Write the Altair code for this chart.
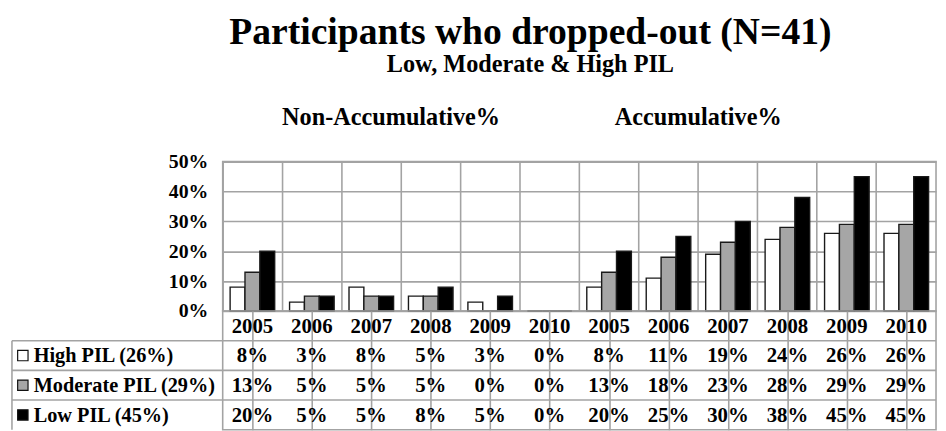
import altair as alt
import pandas as pd

years = ["2005", "2006", "2007", "2008", "2009", "2010"]
series_keys = ["High", "Moderate", "Low"]
series_labels = ["High PIL (26%)", "Moderate PIL (29%)", "Low PIL (45%)"]
fill_colors = ["#ffffff", "#a6a6a6", "#000000"]

high_non = [8, 3, 8, 5, 3, 0]
mod_non = [13, 5, 5, 5, 0, 0]
low_non = [20, 5, 5, 8, 5, 0]
high_acc = [8, 11, 19, 24, 26, 26]
mod_acc = [13, 18, 23, 28, 29, 29]
low_acc = [20, 25, 30, 38, 45, 45]

y_ticks = [0, 0.1, 0.2, 0.3, 0.4, 0.5]
table_rows = ["year", "High", "Moderate", "Low"]

FONT = "Liberation Serif"
GRID = "#a3a3a3"

cats = ["N" + y for y in years] + ["A" + y for y in years]
vals = {
    "High": high_non + high_acc,
    "Moderate": mod_non + mod_acc,
    "Low": low_non + low_acc,
}

bar_rows = []
for s in series_keys:
    for c, v in zip(cats, vals[s]):
        bar_rows.append({"cat": c, "series": s, "value": v / 100.0, "label": f"{v}%"})
bars_df = pd.DataFrame(bar_rows)

table_df = pd.DataFrame(
    [{"cat": c, "row": "year", "text": c[1:]} for c in cats]
    + [{"cat": r["cat"], "row": r["series"], "text": r["label"]} for r in bar_rows]
)
labels_df = pd.DataFrame({"row": series_keys, "label": series_labels, "series": series_keys})

x_scale = alt.Scale(domain=cats, paddingInner=0, paddingOuter=0)
color_scale = alt.Scale(domain=series_keys, range=fill_colors)
row_scale = alt.Scale(domain=table_rows, paddingInner=0, paddingOuter=0)

W = 721
x_axis = alt.Axis(labels=False, ticks=False, domain=False, grid=True, gridColor=GRID,
                  gridWidth=1.6, bandPosition=0, title=None)

bars = alt.Chart(bars_df).mark_bar(stroke="#1a1a1a", strokeWidth=1.4).encode(
    x=alt.X("cat:N", sort=cats, scale=x_scale, axis=x_axis),
    xOffset=alt.XOffset("series:N", sort=series_keys,
                        scale=alt.Scale(domain=series_keys, paddingOuter=0.5, paddingInner=0)),
    y=alt.Y("value:Q", scale=alt.Scale(domain=[0, 0.5]),
            axis=alt.Axis(values=y_ticks, format=".0%", labelFont=FONT, labelFontSize=20,
                          labelFontWeight="bold", labelColor="black", ticks=False, domain=False,
                          grid=True, gridColor=GRID, gridWidth=1.6, labelPadding=15, title=None)),
    fill=alt.Fill("series:N", scale=color_scale, legend=None),
)

sec_style = dict(font=FONT, fontSize=24.5, fontWeight="bold", color="black", baseline="alphabetic")
sec1 = alt.Chart(pd.DataFrame({"cat": ["N2007"], "t": ["Non-Accumulative%"]})).mark_text(
    dx=20, **sec_style).encode(x=alt.X("cat:N", sort=cats, scale=x_scale), y=alt.value(-37), text="t:N")
sec2 = alt.Chart(pd.DataFrame({"cat": ["A2006"], "t": ["Accumulative%"]})).mark_text(
    dx=30, **sec_style).encode(x=alt.X("cat:N", sort=cats, scale=x_scale), y=alt.value(-37), text="t:N")

top = alt.layer(bars, sec1, sec2).properties(width=W, height=151)

tbl_x = alt.X("cat:N", sort=cats, scale=x_scale, axis=x_axis)
tbl_y = alt.Y("row:N", sort=table_rows, scale=row_scale, axis=None)

cells = alt.Chart(table_df).mark_text(font=FONT, fontSize=21, fontWeight="bold", color="black",
                                      dy=1).encode(x=tbl_x, y=tbl_y, text="text:N")
hlines = alt.Chart(labels_df).mark_rule(color=GRID, strokeWidth=1.6).encode(
    y=alt.Y("row:N", sort=table_rows, scale=row_scale, axis=None, bandPosition=0),
    x=alt.value(-213), x2=alt.value(W))
vline = alt.Chart(labels_df.head(1)).mark_rule(color=GRID, strokeWidth=1.6).encode(
    y=alt.Y("row:N", sort=table_rows, scale=row_scale, axis=None, bandPosition=0),
    y2=alt.value(120), x=alt.value(-213))
keys = alt.Chart(labels_df).mark_point(shape="square", size=110, filled=True, stroke="#111111",
                                       strokeWidth=1.2, opacity=1).encode(
    x=alt.value(-202), y=tbl_y, fill=alt.Fill("series:N", scale=color_scale, legend=None))
row_text = alt.Chart(labels_df).mark_text(font=FONT, fontSize=20.5, fontWeight="bold", color="black",
                                          align="left", dy=1).encode(
    x=alt.value(-191), y=tbl_y, text="label:N")

table = alt.layer(hlines, vline, cells, keys, row_text).properties(width=W, height=120)

chart = alt.vconcat(top, table, spacing=0, bounds="flush").properties(
    title=alt.TitleParams(
        text="Participants who dropped-out (N=41)",
        subtitle="Low, Moderate & High PIL",
        font=FONT, fontSize=38, fontWeight="bold", color="black",
        subtitleFont=FONT, subtitleFontSize=24.5, subtitleFontWeight="bold", subtitleColor="black",
        anchor="middle", frame="bounds", dx=57, offset=28, subtitlePadding=2,
    ),
    padding={"left": 2, "right": 0, "top": 3, "bottom": 0},
).configure_view(stroke=GRID, strokeWidth=1.6).configure_concat(spacing=0)

chart.save("out.html", embed_options={"renderer": "svg", "actions": False})
